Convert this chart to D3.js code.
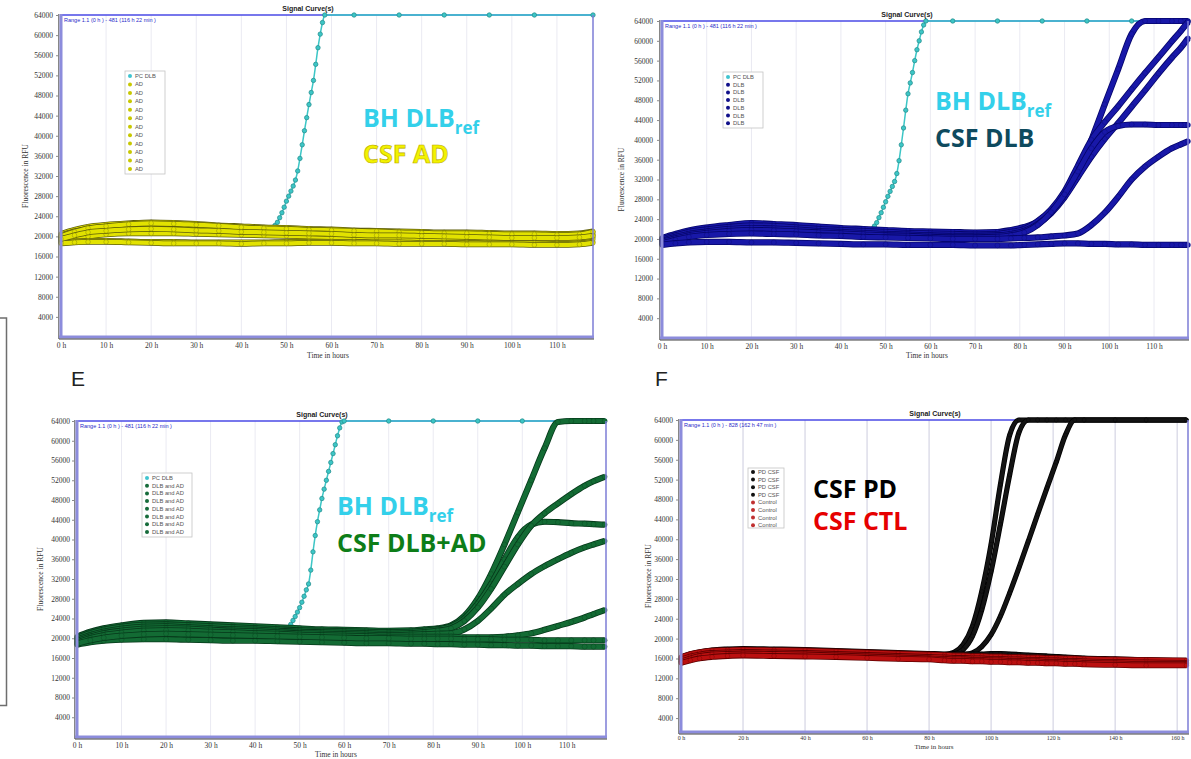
<!DOCTYPE html>
<html>
<head>
<meta charset="utf-8">
<script src="https://cdn.jsdelivr.net/npm/d3@7"></script>
<style>
  body { margin: 0; background: #fff; }
  svg { display: block; }
  .tk text { font-family: "Liberation Serif", serif; font-size: 7.5px; fill: #333; }
  .tk line { stroke: #8a8a8a; }
  .ttl { font-family: "Liberation Sans", Arial, sans-serif; font-size: 7px; font-weight: bold; fill: #222; }
  .rng { font-family: "Liberation Sans", Arial, sans-serif; font-size: 5.5px; fill: #2a2ac8; }
  .lab { font-family: "Liberation Serif", serif; font-size: 7.5px; fill: #333; }
  .leg { font-family: "Liberation Sans", Arial, sans-serif; font-size: 5.8px; fill: #555; }
  .ann { font-family: "Open Sans", "Noto Sans", sans-serif; font-size: 25px; font-weight: 700; }
  .pl { font-family: "Liberation Sans", Arial, sans-serif; font-size: 21px; fill: #222; }
</style>
</head>
<body>
<svg id="fig" width="1191" height="759"></svg>
<script>
// ---- tick labels ----
const yTicks = [4000, 8000, 12000, 16000, 20000, 24000, 28000, 32000, 36000, 40000, 44000, 48000, 52000, 56000, 60000, 64000];
const xTicks10 = [0, 10, 20, 30, 40, 50, 60, 70, 80, 90, 100, 110];
const xTicks20 = [0, 20, 40, 60, 80, 100, 120, 140, 160];

// ---- values in thousands of RFU ----
// PC DLB (brain homogenate reference) in A, B, E
const hoursPcA = [0, 5, 10, 20, 30, 40, 46, 47, 47.5, 48, 48.5, 49, 49.5, 50, 50.5, 51, 51.5, 52, 52.5, 53, 53.5, 54, 54.5, 55, 55.5, 56, 56.5, 57, 57.5, 58, 58.5, 65, 75, 85, 95, 105, 118];
const pcA = [19.8, 20.8, 21.4, 21.8, 21.6, 21.4, 21.3, 21.8, 22.2, 22.8, 23.7, 24.7, 25.8, 27.0, 28.0, 29.0, 30.0, 31.2, 33.0, 35.5, 38.2, 41.0, 43.6, 46.2, 48.6, 51.0, 54.2, 57.5, 60.2, 62.5, 64.0, 64, 64, 64, 64, 64, 64];

const hoursPcB = [0, 5, 10, 20, 30, 40, 45, 46, 46.5, 47, 47.5, 48, 48.5, 49, 49.5, 50, 50.5, 51, 51.5, 52, 52.5, 53, 53.5, 54, 54.5, 55, 55.5, 56, 56.5, 57, 57.5, 58, 58.5, 59, 65, 75, 85, 95, 105, 117.6];
const pcB = [19.8, 20.9, 21.6, 22.2, 21.9, 21.5, 21.3, 21.3, 21.6, 22.0, 22.6, 23.3, 24.3, 25.3, 26.4, 27.5, 28.6, 29.6, 30.6, 31.6, 33.2, 35.8, 39.0, 42.4, 46.0, 49.3, 51.5, 53.6, 56.0, 58.2, 60.0, 61.8, 63.2, 64.0, 64, 64, 64, 64, 64, 64];

const hoursPcE = [0, 5, 10, 20, 30, 40, 45, 46, 46.5, 47, 47.5, 48, 48.5, 49, 49.5, 50, 50.5, 51, 51.5, 52, 52.5, 53, 53.5, 54, 54.5, 55, 55.5, 56, 56.5, 57, 57.5, 58, 58.5, 59, 59.5, 60, 70, 80, 90, 100, 110, 118.5];
const pcE = [20.0, 21.3, 22.0, 22.4, 22.0, 21.6, 21.4, 21.3, 21.5, 21.8, 22.2, 22.8, 23.6, 24.4, 25.3, 26.2, 27.3, 28.5, 29.8, 31.0, 33.8, 37.5, 40.8, 43.6, 46.0, 48.3, 50.2, 52.0, 53.8, 55.6, 57.4, 59.2, 61.0, 62.6, 63.8, 64.0, 64, 64, 64, 64, 64, 64];

// A: CSF AD (11 wells)
const hoursA = [0, 3, 6, 10, 15, 20, 25, 30, 35, 40, 45, 50, 55, 60, 65, 70, 75, 80, 85, 90, 95, 100, 105, 110, 115, 118];
const csfAD = [
  [20.5, 21.3, 21.9, 22.3, 22.6, 22.8, 22.7, 22.5, 22.2, 22.0, 21.8, 21.7, 21.5, 21.4, 21.2, 21.1, 21.0, 20.9, 20.8, 20.8, 20.7, 20.6, 20.6, 20.5, 20.6, 21.0],
  [20.2, 21.0, 21.5, 21.9, 22.2, 22.3, 22.3, 22.1, 21.9, 21.7, 21.5, 21.4, 21.2, 21.1, 21.0, 20.8, 20.7, 20.6, 20.5, 20.5, 20.4, 20.3, 20.3, 20.2, 20.3, 20.7],
  [19.9, 20.7, 21.2, 21.6, 21.8, 21.9, 21.9, 21.7, 21.5, 21.4, 21.2, 21.1, 21.0, 20.8, 20.7, 20.6, 20.5, 20.4, 20.3, 20.2, 20.2, 20.1, 20.0, 20.0, 20.1, 20.4],
  [19.6, 20.4, 20.9, 21.3, 21.5, 21.6, 21.5, 21.4, 21.2, 21.1, 21.0, 20.8, 20.7, 20.6, 20.5, 20.4, 20.3, 20.2, 20.1, 20.0, 19.9, 19.9, 19.8, 19.8, 19.9, 20.2],
  [19.4, 20.1, 20.6, 21.0, 21.2, 21.3, 21.2, 21.1, 21.0, 20.8, 20.7, 20.6, 20.5, 20.3, 20.2, 20.1, 20.0, 19.9, 19.8, 19.8, 19.7, 19.6, 19.6, 19.5, 19.6, 19.9],
  [19.2, 19.9, 20.3, 20.7, 20.9, 21.0, 20.9, 20.8, 20.7, 20.6, 20.5, 20.4, 20.2, 20.1, 20.0, 19.9, 19.8, 19.7, 19.6, 19.5, 19.5, 19.4, 19.3, 19.3, 19.4, 19.7],
  [19.0, 19.6, 20.0, 20.4, 20.6, 20.6, 20.6, 20.5, 20.4, 20.3, 20.2, 20.1, 20.0, 19.9, 19.8, 19.7, 19.6, 19.5, 19.4, 19.3, 19.2, 19.2, 19.1, 19.0, 19.1, 19.4],
  [18.8, 19.0, 19.1, 19.1, 19.0, 18.9, 18.9, 18.8, 18.8, 18.8, 18.8, 18.9, 18.9, 18.9, 18.9, 18.8, 18.8, 18.7, 18.7, 18.7, 18.6, 18.6, 18.6, 18.5, 18.6, 18.9],
  [18.6, 18.8, 18.9, 18.9, 18.8, 18.7, 18.6, 18.6, 18.6, 18.5, 18.6, 18.6, 18.7, 18.7, 18.6, 18.6, 18.5, 18.5, 18.5, 18.4, 18.4, 18.4, 18.3, 18.3, 18.4, 18.7],
  [20.0, 20.9, 21.6, 22.0, 22.4, 22.6, 22.5, 22.3, 22.1, 21.8, 21.6, 21.5, 21.3, 21.2, 21.1, 21.0, 20.8, 20.7, 20.6, 20.6, 20.5, 20.4, 20.4, 20.3, 20.4, 20.9],
  [19.5, 20.2, 20.8, 21.1, 21.4, 21.5, 21.4, 21.2, 21.1, 20.9, 20.8, 20.7, 20.6, 20.5, 20.3, 20.2, 20.2, 20.1, 20.0, 19.9, 19.8, 19.7, 19.7, 19.7, 19.8, 20.1]
];

// B: CSF DLB (6 wells)
const hoursB = [0, 3, 6, 10, 15, 20, 25, 30, 35, 40, 45, 50, 55, 60, 65, 70, 75, 78, 81, 84, 87, 90, 93, 96, 99, 102, 105, 108, 111, 114, 116, 117.6];
const csfDLB = [
  [20.2, 21.0, 21.7, 22.3, 22.8, 23.2, 23.0, 22.8, 22.5, 22.2, 22.0, 21.8, 21.6, 21.5, 21.4, 21.3, 21.4, 21.8, 22.4, 23.5, 25.8, 28.8, 33.0, 40.0, 47.2, 54.3, 61.4, 64, 64, 64, 64, 64],
  [19.9, 20.7, 21.4, 21.9, 22.4, 22.7, 22.6, 22.3, 22.0, 21.8, 21.6, 21.4, 21.2, 21.1, 21.0, 20.9, 21.0, 21.4, 22.0, 23.6, 26.0, 29.6, 34.8, 40.0, 43.6, 46.8, 50.2, 53.5, 56.7, 59.9, 62.0, 63.8],
  [19.6, 20.4, 21.0, 21.5, 22.0, 22.2, 22.1, 21.9, 21.6, 21.4, 21.2, 21.0, 20.9, 20.7, 20.6, 20.6, 20.7, 21.0, 21.6, 23.0, 25.2, 28.4, 32.5, 36.6, 40.2, 43.4, 46.7, 50.0, 53.4, 56.6, 58.6, 60.5],
  [19.4, 20.1, 20.7, 21.2, 21.6, 21.8, 21.7, 21.5, 21.3, 21.1, 20.9, 20.7, 20.6, 20.4, 20.3, 20.3, 20.4, 20.7, 21.3, 22.8, 25.4, 29.0, 33.6, 38.3, 41.6, 42.8, 43.1, 43.1, 43.0, 43.0, 43.0, 43.0],
  [19.1, 19.8, 20.4, 20.8, 21.0, 21.1, 21.0, 20.9, 20.7, 20.6, 20.4, 20.3, 20.2, 20.1, 20.0, 20.0, 20.0, 20.1, 20.2, 20.3, 20.5, 20.7, 21.1, 22.8, 25.3, 28.5, 32.0, 34.6, 36.6, 38.3, 39.1, 39.7],
  [18.8, 19.1, 19.3, 19.4, 19.4, 19.3, 19.3, 19.2, 19.1, 19.0, 18.9, 18.9, 18.8, 18.8, 18.8, 18.7, 18.7, 18.7, 18.8, 18.9, 19.0, 19.1, 19.1, 19.0, 19.0, 18.9, 18.9, 18.8, 18.8, 18.8, 18.8, 18.8]
];

// E: CSF DLB and AD (7 wells)
const hoursE = [0, 3, 6, 10, 15, 20, 25, 30, 35, 40, 45, 50, 55, 60, 65, 70, 75, 78, 81, 84, 87, 90, 93, 96, 99, 102, 105, 108, 111, 114, 116, 118.5];
const csfDLBAD = [
  [20.3, 21.3, 22.0, 22.6, 23.1, 23.2, 23.0, 22.8, 22.6, 22.4, 22.2, 22.0, 21.8, 21.7, 21.6, 21.5, 21.6, 21.8, 22.0, 22.6, 24.5, 28.0, 33.0, 39.0, 45.5, 52.0, 58.5, 63.8, 64, 64, 64, 64],
  [20.0, 21.0, 21.7, 22.3, 22.7, 22.8, 22.6, 22.4, 22.2, 22.0, 21.8, 21.6, 21.5, 21.4, 21.3, 21.2, 21.3, 21.5, 21.8, 22.4, 24.0, 27.0, 31.0, 36.0, 40.5, 43.0, 43.6, 43.5, 43.3, 43.2, 43.1, 43.0],
  [19.7, 20.6, 21.3, 21.9, 22.3, 22.4, 22.2, 22.0, 21.8, 21.7, 21.5, 21.3, 21.2, 21.1, 21.0, 20.9, 21.0, 21.2, 21.5, 22.0, 23.5, 26.2, 30.0, 34.5, 39.0, 42.8, 45.3, 47.3, 49.2, 50.9, 51.8, 52.7],
  [19.4, 20.3, 21.0, 21.5, 21.9, 22.0, 21.9, 21.7, 21.5, 21.4, 21.2, 21.0, 20.9, 20.8, 20.7, 20.6, 20.7, 20.8, 20.9, 21.0, 21.8, 23.5, 26.0, 28.8, 31.0, 33.0, 34.6, 36.0, 37.3, 38.4, 39.0, 39.7],
  [19.1, 20.0, 20.6, 21.1, 21.5, 21.6, 21.5, 21.3, 21.2, 21.0, 20.9, 20.7, 20.6, 20.5, 20.4, 20.3, 20.3, 20.3, 20.3, 20.3, 20.2, 20.2, 20.2, 20.3, 20.6, 21.0, 21.7, 22.5, 23.3, 24.2, 24.9, 25.7],
  [18.7, 19.2, 19.5, 19.7, 19.8, 19.8, 19.7, 19.6, 19.5, 19.5, 19.4, 19.3, 19.2, 19.1, 19.0, 19.0, 18.9, 18.9, 18.8, 18.8, 18.7, 18.7, 18.6, 18.6, 18.5, 18.5, 18.4, 18.4, 18.4, 18.3, 18.3, 18.3],
  [18.9, 19.6, 20.1, 20.5, 20.8, 20.9, 20.8, 20.7, 20.6, 20.5, 20.4, 20.3, 20.2, 20.1, 20.0, 20.0, 19.9, 19.9, 19.9, 19.9, 19.8, 19.8, 19.8, 19.7, 19.7, 19.7, 19.6, 19.6, 19.6, 19.6, 19.6, 19.6]
];

// F: PD CSF (4 wells) and control CSF (4 wells)
const hoursF = [0, 3, 6, 10, 15, 20, 30, 40, 50, 60, 70, 80, 85, 88, 91, 94, 97, 100, 103, 106, 109, 112, 115, 118, 121, 124, 127, 130, 140, 150, 163];
const csfPD = [
  [16.0, 16.7, 17.1, 17.4, 17.6, 17.8, 17.6, 17.5, 17.3, 17.1, 16.9, 16.8, 16.8, 17.2, 18.8, 22.5, 29.5, 39.0, 51.0, 61.0, 64, 64, 64, 64, 64, 64, 64, 64, 64, 64, 64],
  [15.9, 16.5, 17.0, 17.3, 17.5, 17.6, 17.5, 17.4, 17.2, 17.0, 16.8, 16.7, 16.7, 16.9, 17.8, 20.5, 25.8, 33.5, 43.0, 53.0, 61.5, 64, 64, 64, 64, 64, 64, 64, 64, 64, 64],
  [15.7, 16.3, 16.8, 17.1, 17.3, 17.4, 17.3, 17.2, 17.0, 16.8, 16.6, 16.5, 16.5, 16.5, 16.7, 17.1, 18.4, 20.8, 24.5, 29.2, 34.3, 39.6, 45.0, 50.3, 55.5, 61.0, 64, 64, 64, 64, 64],
  [16.2, 16.9, 17.3, 17.7, 17.9, 18.0, 17.9, 17.8, 17.6, 17.4, 17.2, 17.0, 16.9, 16.9, 16.9, 16.9, 16.9, 17.0, 17.0, 16.9, 16.8, 16.7, 16.6, 16.5, 16.4, 16.3, 16.2, 16.1, 15.9, 15.7, 15.5]
];
const csfCTL = [
  [16.3, 16.9, 17.3, 17.6, 17.7, 17.8, 17.7, 17.6, 17.4, 17.2, 17.0, 16.8, 16.7, 16.6, 16.6, 16.5, 16.5, 16.4, 16.4, 16.3, 16.3, 16.2, 16.2, 16.1, 16.1, 16.0, 16.0, 15.9, 15.8, 15.7, 15.6],
  [15.8, 16.4, 16.8, 17.1, 17.2, 17.3, 17.2, 17.1, 16.9, 16.7, 16.5, 16.3, 16.2, 16.1, 16.1, 16.0, 16.0, 15.9, 15.9, 15.8, 15.8, 15.7, 15.7, 15.6, 15.6, 15.5, 15.5, 15.4, 15.3, 15.2, 15.1],
  [15.4, 16.0, 16.5, 16.8, 16.9, 17.0, 16.9, 16.8, 16.6, 16.4, 16.2, 16.0, 15.9, 15.8, 15.8, 15.7, 15.7, 15.6, 15.6, 15.5, 15.5, 15.4, 15.4, 15.3, 15.3, 15.2, 15.2, 15.1, 15.0, 14.9, 14.9],
  [15.1, 15.6, 16.0, 16.3, 16.5, 16.6, 16.5, 16.4, 16.3, 16.1, 15.9, 15.8, 15.6, 15.5, 15.5, 15.4, 15.4, 15.3, 15.3, 15.2, 15.2, 15.1, 15.1, 15.0, 15.0, 14.9, 14.9, 14.8, 14.7, 14.6, 14.6]
];

// ---- drawing ----
const svg = d3.select('#fig');

// edge of the neighbouring figure on the left
svg.append('path').attr('d', 'M0,318H6.5V705.5H0')
  .attr('fill', 'none').attr('stroke', '#6e6e6e').attr('stroke-width', 1.5);

const pcStyle = { color: '#3cc6c6', outline: '#2a9292', thin: true };

function drawPanel(p) {
  const g = svg.append('g');
  const x = d3.scaleLinear().domain([0, p.xMax]).range([p.left, p.right]);
  const y = d3.scaleLinear().domain([p.yMin || 0, 64000]).range([p.bottom, p.top]);

  g.selectAll('.grid').data(p.xTicks.slice(1)).enter().append('line')
    .attr('x1', d => x(d)).attr('x2', d => x(d))
    .attr('y1', p.top).attr('y2', p.bottom)
    .attr('stroke', p.grid).attr('stroke-width', 1);

  g.append('line').attr('x1', p.left).attr('x2', p.right).attr('y1', p.top).attr('y2', p.top)
    .attr('stroke', '#4a4ae6').attr('stroke-width', 1.5);

  const line = d3.line().x(d => x(d[0])).y(d => y(d[1] * 1000)).curve(d3.curveMonotoneX);

  p.series.forEach(s => {
    const pts = s.hours.map((h, i) => [h, s.vals[i]]);
    if (s.thin) {
      g.append('path').attr('d', line(pts)).attr('fill', 'none')
        .attr('stroke', s.color).attr('stroke-width', 1.5);
      g.selectAll(null).data(pts).enter().append('circle')
        .attr('cx', d => x(d[0])).attr('cy', d => y(d[1] * 1000)).attr('r', 2.2)
        .attr('fill', s.color).attr('stroke', s.outline).attr('stroke-width', 0.8);
    } else {
      g.append('path').attr('d', line(pts)).attr('fill', 'none')
        .attr('stroke', s.outline).attr('stroke-width', s.w + 1.6).attr('stroke-linejoin', 'round');
      g.append('path').attr('d', line(pts)).attr('fill', 'none')
        .attr('stroke', s.color).attr('stroke-width', s.w).attr('stroke-linejoin', 'round');
      g.selectAll(null).data(pts).enter().append('circle')
        .attr('cx', d => x(d[0])).attr('cy', d => y(d[1] * 1000)).attr('r', s.w / 2 + 0.2)
        .attr('fill', s.color).attr('stroke', s.outline).attr('stroke-opacity', 0.45).attr('stroke-width', 0.7);
    }
  });

  // frame
  g.append('line').attr('x1', p.right).attr('x2', p.right).attr('y1', p.top).attr('y2', p.bottom)
    .attr('stroke', '#7d7dd6').attr('stroke-width', 1.5);
  g.append('line').attr('x1', p.left - 2.2).attr('x2', p.left - 2.2).attr('y1', p.top - 1).attr('y2', p.bottom + 2)
    .attr('stroke', '#555').attr('stroke-width', 1);
  g.append('line').attr('x1', p.left).attr('x2', p.left).attr('y1', p.top - 1).attr('y2', p.bottom + 1)
    .attr('stroke', '#8c8cdc').attr('stroke-width', 3);
  g.append('line').attr('x1', p.left - 2).attr('x2', p.right + 1).attr('y1', p.bottom).attr('y2', p.bottom)
    .attr('stroke', '#8c8cdc').attr('stroke-width', 3);
  g.append('line').attr('x1', p.left - 2).attr('x2', p.right + 1).attr('y1', p.bottom + 2).attr('y2', p.bottom + 2)
    .attr('stroke', '#404040').attr('stroke-width', 1);

  // axes
  const ya = g.append('g').attr('class', 'tk').attr('transform', `translate(${p.left - 3},0)`)
    .call(d3.axisLeft(y).tickValues(yTicks).tickSize(2).tickPadding(p.yPad).tickFormat(d3.format('d')));
  ya.select('.domain').remove();
  const xa = g.append('g').attr('class', 'tk').attr('transform', `translate(0,${p.bottom + 2})`)
    .call(d3.axisBottom(x).tickValues(p.xTicks).tickSize(0).tickPadding(p.xPad).tickFormat(d => d + ' h'));
  xa.select('.domain').remove();
  if (p.xFont) xa.selectAll('text').style('font-size', p.xFont);

  g.append('text').attr('class', 'ttl').attr('x', p.titleX).attr('y', p.top - 4)
    .attr('text-anchor', 'middle').text('Signal Curve(s)');
  g.append('text').attr('class', 'rng').attr('x', p.left + 3).attr('y', p.top + 7).text(p.range);
  g.append('text').attr('class', 'lab').attr('x', p.xLabX).attr('y', p.xLabY)
    .attr('text-anchor', 'middle').style('font-size', p.labFont || null).text('Time in hours');
  g.append('text').attr('class', 'lab')
    .attr('transform', `translate(${p.yLabX},${(p.top + p.bottom) / 2}) rotate(-90)`)
    .attr('text-anchor', 'middle').text('Fluorescence in RFU');

  // legend
  const L = p.legend;
  g.append('rect').attr('x', L.x).attr('y', L.y).attr('width', L.w).attr('height', L.h)
    .attr('fill', '#fff').attr('stroke', '#c4c4c4').attr('stroke-width', 0.8);
  L.items.forEach((it, i) => {
    const cy = L.y0 + i * L.step;
    g.append('circle').attr('cx', L.x + 5).attr('cy', cy).attr('r', 2)
      .attr('fill', it[1]);
    g.append('text').attr('class', 'leg').attr('x', L.x + 10).attr('y', cy + 2).text(it[0]);
  });

  // annotation
  const A = p.ann;
  const t1 = g.append('text').attr('class', 'ann').attr('x', A.x).attr('y', A.y1).attr('fill', A.c1);
  t1.append('tspan').text(A.t1);
  if (A.sub) t1.append('tspan').attr('dy', 7).style('font-size', '17px').text(A.sub);
  g.append('text').attr('class', 'ann').attr('x', A.x).attr('y', A.y2).attr('fill', A.c2)
    .attr('stroke', A.s2 || 'none').attr('stroke-width', 0.6).text(A.t2);
}

const rangeShort = 'Range 1.1 (0 h ) - 481 (116 h 22 min )';

drawPanel({
  left: 61, right: 593, top: 15, bottom: 337, xMax: 118, xTicks: xTicks10, grid: '#eaeaf2',
  yPad: 3, xPad: 4, titleX: 308, xLabX: 328, xLabY: 358, yLabX: 28, range: rangeShort,
  series: [Object.assign({ hours: hoursPcA, vals: pcA }, pcStyle)]
    .concat(csfAD.map(v => ({ hours: hoursA, vals: v, color: '#e2e200', outline: '#5c5c08', w: 4.2 }))),
  legend: { x: 125, y: 71, w: 40, h: 103, y0: 76, step: 8.45,
    items: [['PC DLB', '#40c4d0']].concat(csfAD.map(() => ['AD', '#c8c800'])) },
  ann: { x: 363, y1: 127, y2: 163, t1: 'BH DLB', sub: 'ref', t2: 'CSF AD', c1: '#33d0ea', c2: '#f2f200', s2: '#b8a800' }
});

drawPanel({
  left: 662, right: 1188, top: 21, bottom: 338, xMax: 117.6, xTicks: xTicks10, grid: '#eaeaf2',
  yPad: 4, xPad: 4, titleX: 907, xLabX: 927, xLabY: 358, yLabX: 624, range: rangeShort,
  series: [Object.assign({ hours: hoursPcB, vals: pcB }, pcStyle)]
    .concat(csfDLB.map(v => ({ hours: hoursB, vals: v, color: '#1818a8', outline: '#05056a', w: 4.6 }))),
  legend: { x: 723, y: 72, w: 40, h: 56, y0: 77, step: 7.7,
    items: [['PC DLB', '#40c4d0']].concat(csfDLB.map(() => ['DLB', '#10108a'])) },
  ann: { x: 935, y1: 110, y2: 147, t1: 'BH DLB', sub: 'ref', t2: 'CSF DLB', c1: '#33d0ea', c2: '#0e4a5e' }
});

drawPanel({
  left: 77, right: 606, top: 421, bottom: 737, xMax: 118.8, xTicks: xTicks10, grid: '#eaeaf2',
  yPad: 2, xPad: 4, titleX: 322, xLabX: 336, xLabY: 757, yLabX: 43, range: rangeShort,
  series: [Object.assign({ hours: hoursPcE, vals: pcE }, pcStyle)]
    .concat(csfDLBAD.map(v => ({ hours: hoursE, vals: v, color: '#136b34', outline: '#06381a', w: 4.6 }))),
  legend: { x: 142, y: 473, w: 50, h: 64, y0: 478, step: 7.7,
    items: [['PC DLB', '#40c4d0']].concat(csfDLBAD.map(() => ['DLB and AD', '#166b3a'])) },
  ann: { x: 337, y1: 515, y2: 552, t1: 'BH DLB', sub: 'ref', t2: 'CSF DLB+AD', c1: '#33d0ea', c2: '#0d7d18' }
});

drawPanel({
  left: 681, right: 1188, top: 420, bottom: 732, yMin: 1200, xMax: 163.5, xTicks: xTicks20, grid: '#ccccde',
  yPad: 3, xPad: 1.5, xFont: '6px', labFont: '7px', titleX: 935, xLabX: 934, xLabY: 749, yLabX: 651,
  range: 'Range 1.1 (0 h ) - 828 (162 h 47 min )',
  series: csfPD.map(v => ({ hours: hoursF, vals: v, color: '#141414', outline: '#000', w: 3.6 }))
    .concat(csfCTL.map(v => ({ hours: hoursF, vals: v, color: '#bb1010', outline: '#5e0000', w: 4.2 }))),
  legend: { x: 748, y: 468, w: 36, h: 60, y0: 472, step: 7.6,
    items: csfPD.map(() => ['PD CSF', '#111']).concat(csfCTL.map(() => ['Control', '#c03030'])) },
  ann: { x: 813, y1: 498, y2: 530, t1: 'CSF PD', t2: 'CSF CTL', c1: '#000', c2: '#e60000' }
});

// panel letters
svg.append('text').attr('class', 'pl').attr('x', 71).attr('y', 386).text('E');
svg.append('text').attr('class', 'pl').attr('x', 655).attr('y', 386).text('F');
</script>
</body>
</html>
